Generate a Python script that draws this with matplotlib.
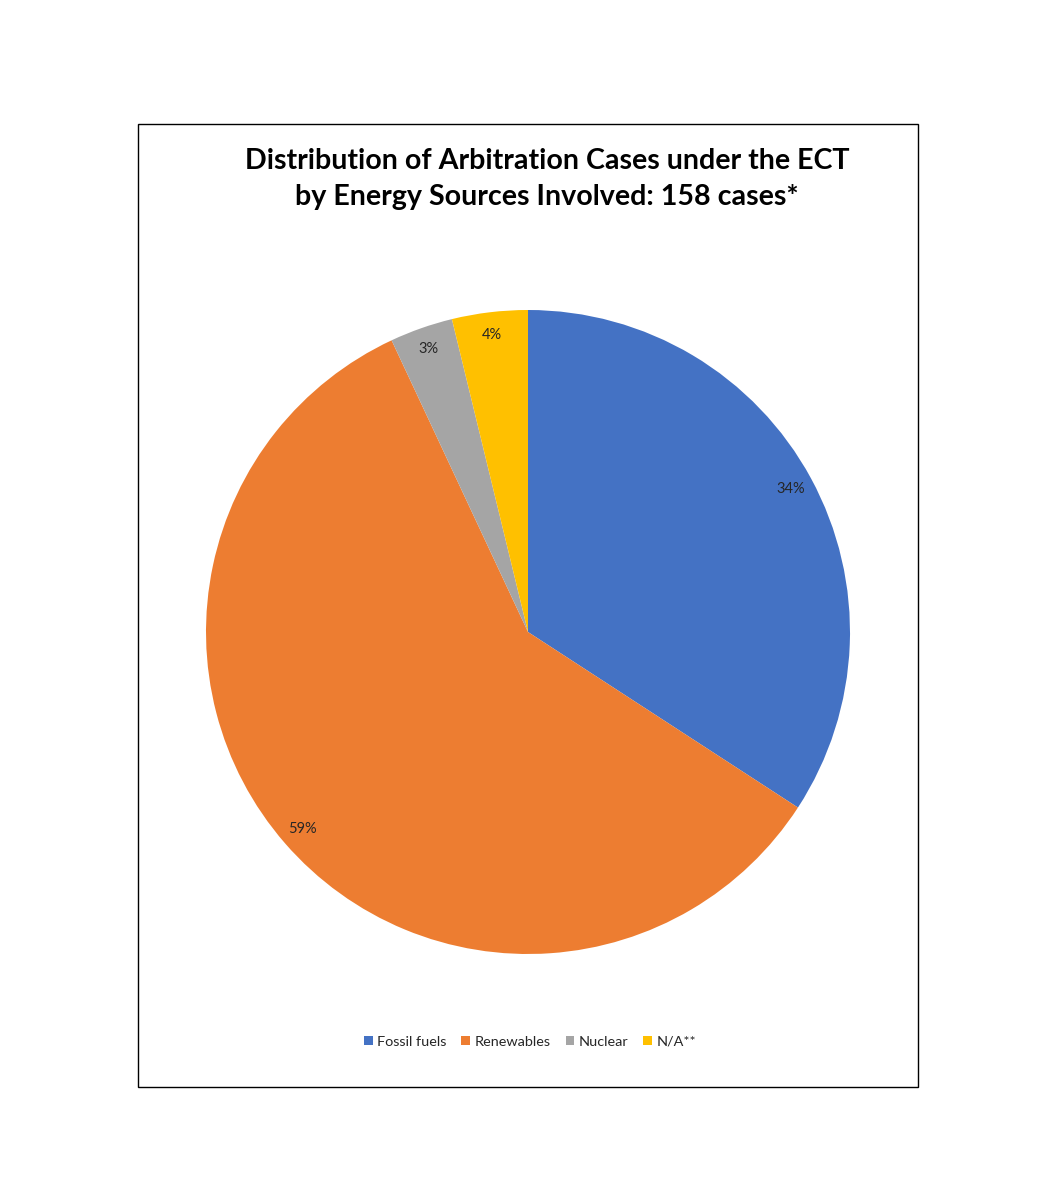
import matplotlib
matplotlib.use('Agg')
import matplotlib.pyplot as plt
from matplotlib.patches import Rectangle
import numpy as np

plt.rcParams['font.family'] = ['Lato', 'DejaVu Sans']

# case counts by energy source (158 cases)
sources = ['Fossil fuels', 'Renewables', 'Nuclear', 'N/A**']
cases = [54, 93, 5, 6]
colors = ['#4472C4', '#ED7D31', '#A5A5A5', '#FFC000']

fig = plt.figure(figsize=(10.57, 12), dpi=100)

# outer chart border
fig.patches.append(Rectangle((138 / 1057, 1 - 1087 / 1200), 780 / 1057, 963 / 1200,
                             transform=fig.transFigure, fill=False,
                             edgecolor='black', linewidth=1.0))

fig.text(547 / 1057, 1 - 179 / 1200,
         'Distribution of Arbitration Cases under the ECT\nby Energy Sources Involved: 158 cases*',
         ha='center', va='center', fontsize=20.6, fontweight='bold',
         linespacing=1.5, color='black')

ax = fig.add_axes([206 / 1057, 1 - 954 / 1200, 644 / 1057, 644 / 1200])
wedges = ax.pie(cases, colors=colors, startangle=90, counterclock=False,
                radius=1.0)[0]
total = sum(cases)
for w, c in zip(wedges, cases):
    ang = np.deg2rad((w.theta1 + w.theta2) / 2)
    ax.text(0.93 * np.cos(ang), 0.93 * np.sin(ang), '%.0f%%' % (100 * c / total),
            ha='center', va='center', fontsize=10.5, color='#262626')
ax.set_xlim(-1, 1)
ax.set_ylim(-1, 1)
ax.set_aspect('equal')
ax.axis('off')

fig.legend(wedges, sources, loc='center', bbox_to_anchor=(530 / 1057, 1 - 1042 / 1200),
           ncol=4, frameon=False, fontsize=10.4, handlelength=0.6, handleheight=0.6,
           handletextpad=0.3, columnspacing=1.05, labelcolor='#262626')

fig.savefig('out.png', dpi=100)
